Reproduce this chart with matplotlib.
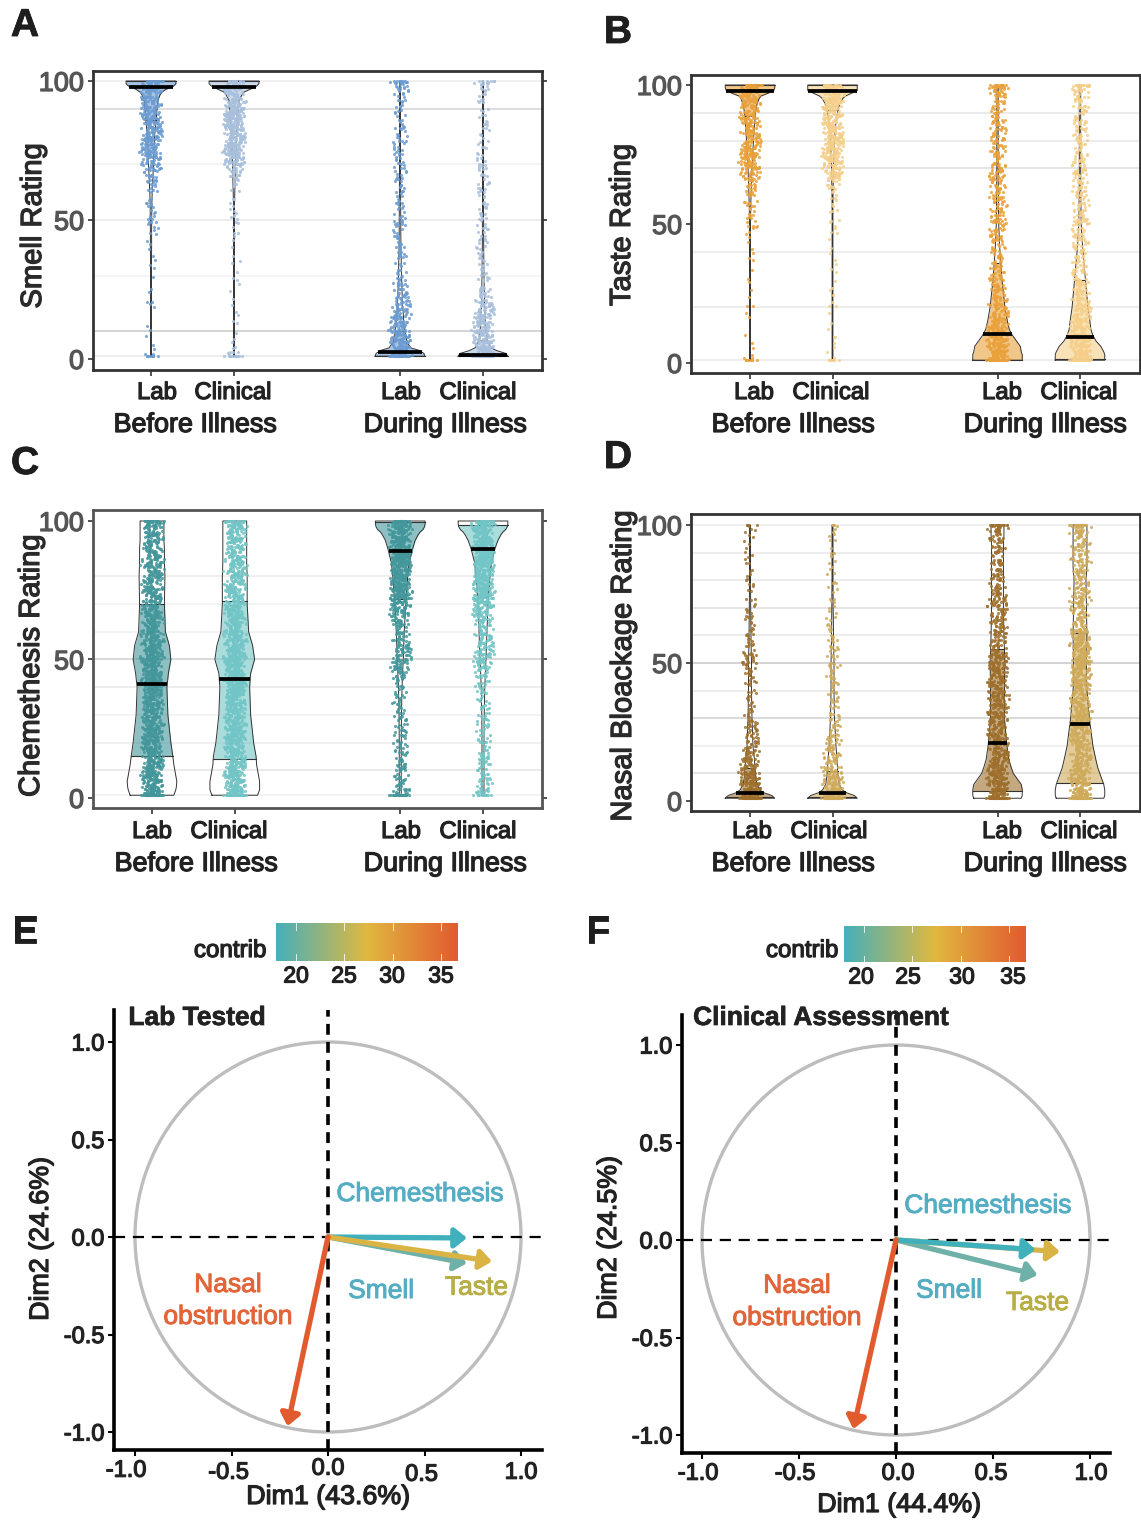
import numpy as np
import matplotlib
matplotlib.use("Agg")
import matplotlib.pyplot as plt
import matplotlib.patheffects as pe
from matplotlib.colors import LinearSegmentedColormap
from matplotlib.patches import Circle
from matplotlib.transforms import ScaledTranslation

plt.rcParams["font.family"] = ["Liberation Sans", "DejaVu Sans"]

W, H = 1141, 1522

# ratings are read in 2-point bands: counts[i] = points seen near rating 2*i
smell_lab_before = [8,3,1,1,1,1,1,0,0,1,3,0,1,1,0,1,1,1,1,1,1,2,1,2,3,6,4,3,4,3,4,5,7,9,13,16,19,21,23,24,25,26,27,25,22,20,19,17,16,18,24]
smell_clin_before = [12,6,2,1,1,1,1,1,1,1,1,1,1,1,1,1,1,1,1,1,1,1,1,2,2,3,3,2,2,2,2,3,4,7,13,24,27,28,30,31,32,32,33,34,33,29,22,18,17,19,26]
smell_lab_during = [30,28,27,25,23,21,19,18,16,15,13,11,9,10,7,5,4,4,4,5,4,4,5,4,5,6,4,4,5,3,4,4,4,4,5,6,4,5,5,6,5,4,4,3,4,4,4,5,6,9,18]
smell_clin_during = [32,30,28,26,24,22,21,20,19,18,16,11,9,6,5,4,4,4,4,4,4,4,4,4,4,5,5,4,4,3,4,4,4,4,4,5,4,3,3,3,3,3,3,2,3,3,3,3,4,5,14]
taste_lab_before = [8,2,1,1,1,1,0,0,1,1,2,0,1,1,0,2,0,1,1,1,1,1,1,2,3,4,4,4,6,6,5,6,9,13,17,19,21,22,24,22,22,21,21,20,19,18,17,18,18,20,26]
taste_clin_before = [6,2,1,1,1,2,1,1,0,1,2,1,1,1,1,1,1,1,1,1,1,1,1,1,2,2,2,2,2,2,3,4,7,13,18,21,23,25,25,26,27,28,27,26,25,23,21,21,22,24,28]
taste_lab_during = [32,30,29,27,25,23,21,20,18,16,15,14,13,11,10,10,9,9,8,7,7,7,8,9,9,10,11,10,9,9,10,10,10,11,11,10,10,9,10,9,10,9,10,9,10,9,7,9,10,14,24]
taste_clin_during = [32,30,28,26,23,21,20,18,18,16,15,14,12,12,10,10,9,9,9,8,8,8,9,9,9,11,10,9,8,8,8,9,9,9,9,8,9,8,8,8,8,8,8,8,8,7,8,8,10,12,22]
chem_lab_before = [38,34,33,34,32,31,31,32,29,31,31,29,29,31,29,29,31,31,31,29,33,34,34,34,36,38,36,34,32,31,31,31,29,29,27,26,24,26,24,22,24,22,24,24,22,22,22,22,22,24,30]
chem_clin_before = [38,34,34,32,32,32,31,31,31,31,29,31,31,29,29,31,29,31,31,31,31,34,36,34,36,38,34,34,32,32,31,31,29,29,29,27,27,26,26,24,24,24,24,24,24,22,24,24,24,27,34]
chem_lab_during = [20,13,9,8,8,8,8,8,6,6,8,6,6,6,6,6,6,6,5,5,6,6,9,13,14,16,16,14,13,11,11,11,13,16,20,24,27,29,31,32,34,36,36,36,38,38,38,38,38,38,40]
chem_clin_during = [13,9,8,8,8,8,8,9,8,6,6,6,6,6,6,5,5,5,5,6,6,6,8,11,13,16,16,14,14,13,13,14,14,18,22,26,29,31,32,34,34,34,34,34,34,34,36,36,36,38,40]
nasal_lab_before = [36,32,27,24,22,19,17,14,13,12,10,9,8,8,8,5,4,4,4,3,4,5,4,5,6,9,8,6,5,4,4,4,3,4,3,3,2,2,2,3,2,2,2,2,2,2,1,2,2,3,5]
nasal_clin_before = [34,29,24,20,17,16,14,13,12,12,10,9,8,6,6,5,4,4,4,4,4,5,5,5,5,6,5,4,4,4,4,3,3,3,2,2,2,2,2,2,2,2,2,2,2,2,1,2,2,2,5]
nasal_lab_during = [36,30,27,26,24,24,23,23,21,21,20,20,20,18,18,18,18,17,17,17,17,18,20,20,21,21,18,13,12,12,12,12,12,13,13,13,13,13,12,11,9,9,8,9,8,8,9,8,9,12,21]
nasal_clin_during = [39,33,30,27,26,26,24,23,23,23,21,23,23,23,23,23,21,21,21,21,23,23,23,23,24,24,23,21,21,21,21,21,12,12,12,12,14,14,14,12,11,11,12,12,12,11,11,12,12,14,24]

# violin density at each rating knot
rating_knots = [1,2,3,4,6,8,10,12,15,20,30,40,45,50,55,60,70,80,85,90,93,95,96,97,98,99,100]
smell_dens = [
    [.4,.4,.4,.4,.4,.4,.4,.4,.4,.4,.4,.6,.6,.7,.8,1.2,2.5,3.5,5,6,7,9,11,15,22,25,25],
    [.4,.4,.4,.4,.4,.4,.4,.4,.4,.4,.4,.4,.4,.4,.5,.8,1.5,2.5,3.5,4.5,5,8,10,16,22,25,25],
    [25,24,20,11,7,6,5,4,3.5,2.5,1.5,1,.8,.8,.6,.6,.5,.5,.5,.5,.5,.5,.5,.5,.5,.5,.5],
    [25,23,14,8,5,4,3,2.5,2,1.5,1,.7,.6,.6,.5,.5,.5,.5,.5,.5,.5,.5,.5,.5,.5,.5,.5],
]
taste_dens = [
    [.4,.4,.4,.4,.4,.4,.4,.4,.4,.4,.4,.4,.4,.5,.7,1,2,3.5,4.5,5.5,7,9,11,18,24,25,25],
    [.4,.4,.4,.4,.4,.4,.4,.4,.4,.4,.4,.4,.4,.4,.4,.5,1,2,3,5,7,10,13,19,25,25,25],
    [25,25,25,24,23,19,15,12,10,7.5,4.5,2.5,1.8,1.2,1,.9,.7,.7,.7,.7,.7,.7,.7,.7,.7,.7,.7],
    [25,25,25,24,21,16,13,11,10,8,5.5,3,2,1.2,1,.8,.7,.7,.7,.7,.7,.7,.7,.7,.7,.7,.7],
]
chem_dens = [
    [22,23,24,24.5,25,24,23,22,21,19,16,15,16.5,19,17.5,13.5,12.5,13,12.5,12.5,12,12,12,12,12,12,12],
    [23,24,25,25,25,24,23,22,21.5,19,16,15,16,20,18,14,12.5,12.5,12,12,12,12,12,12,12,12,12],
    [1,1,1,1,1,1,1,1,1,1,1.2,1.8,2.4,3,3.5,4,5.5,7.5,9,12.5,15,18,20,23,24.5,25,25],
    [1,1,1,1,1,1,1,1,1,1,1.2,1.8,2.4,3,3.5,4,5,7,8.5,12,15,18,20,23,24.5,25,25],
]
nasal_dens = [
    [25,22,14,10,7,6,5.5,5,4.5,3,2,1.5,1.5,1.5,1.2,1,.7,.5,.5,.5,.5,.5,.5,.5,.5,.5,.5],
    [25,22,14,10,7,6,5.5,5,4.5,3.5,2,1.5,1.5,1.5,1.2,1,.7,.5,.5,.5,.5,.5,.5,.5,.5,.5,.5],
    [24,25,25,25,24,20,16,14,11.5,9.5,7,7,7.2,7.5,7,6.5,6,6,6,6,6,6,6.5,6.5,6.5,6.5,6.5],
    [24,25,25,25,24,22,20,18,16,13,9.5,7,6.5,6.5,6.8,7,6.5,6,7,7,7,7,7,7,7,7,7],
]

# q1, median, q3 for lab/clinical before, lab/clinical during
smell_quart = [(86, 98, 100), (89, 98, 100), (1, 2.5, 10), (1, 1.5, 7)]
taste_quart = [(89, 98, 100), (91, 98, 100), (1, 10.5, 36), (1.5, 9.5, 30)]
chem_quart = [(15, 41, 70), (14, 43, 71), (72, 89, 99.5), (72.5, 90, 98.5)]
nasal_quart = [(1.5, 3, 12), (1.5, 3, 11), (3.5, 21, 55), (6.5, 28, 61)]

# horizontal reference lines: (rating, grey)
smell_grid = [(100, "#ececec"), (90, "#d4d4d4"), (70, "#f0f0f0"), (50, "#e8e8e8"), (30, "#f2f2f2"), (10, "#c8c8c8"), (1, "#e8e8e8")]
taste_grid = [(90, "#e6e6e6"), (80, "#e6e6e6"), (70, "#dedede"), (40, "#e8e8e8"), (20, "#e8e8e8"), (1, "#e8e8e8")]
chem_grid = [(80, "#ececec"), (70, "#f0f0f0"), (60, "#f0f0f0"), (50, "#cfcfcf"), (40, "#e8e8e8"), (30, "#f0f0f0"), (20, "#ececec"), (10, "#e6e6e6"), (1, "#f0f0f0")]
nasal_grid = [(100, "#ececec"), (90, "#e8e8e8"), (80, "#e6e6e6"), (70, "#dedede"), (60, "#e6e6e6"), (50, "#c8c8c8"), (40, "#e6e6e6"), (30, "#cfcfcf"), (20, "#ececec"), (10, "#dedede")]

condition_labels = ["Lab", "Clinical", "Lab", "Clinical"]
group_labels = ["Before Illness", "During Illness"]
cat_pos = [1, 2, 4, 5]

pca_lab_names = ["Smell", "Chemesthesis", "Taste", "Nasal"]
pca_lab_x = [0.72, 0.72, 0.85, -0.21]
pca_lab_y = [-0.135, -0.005, -0.125, -0.97]
pca_clin_names = ["Smell", "Taste", "Chemesthesis", "Nasal"]
pca_clin_x = [0.73, 0.845, 0.72, -0.22]
pca_clin_y = [-0.18, -0.06, -0.05, -0.97]
arrow_colors = {"Smell": "#6fb0a8", "Chemesthesis": "#3fb0bc", "Taste": "#d9b445", "Nasal": "#e25b2e"}
contrib_ticks = [20, 25, 30, 35]
contrib_range = [17.9, 36.8]
pca_ticks = [-1.0, -0.5, 0.0, 0.5, 1.0]


def px_axes(left, top, right, bottom):
    return fig.add_axes([left / W, 1 - bottom / H, (right - left) / W, (bottom - top) / H])


def label(px, py, s, size, color="#222222", weight="normal", rotation=0, stroke=0.9):
    dx, dy = (2, 0) if rotation else (0, 2)
    t = fig.text((px + dx) / W, 1 - (py + dy) / H, s, fontsize=size, color=color, weight=weight,
                 rotation=rotation, ha="center", va="center")
    if stroke:
        t.set_path_effects([pe.withStroke(linewidth=stroke, foreground=color)])
    return t


def nudge(ticklabels, offsets):
    for t, (dx, dy) in zip(ticklabels, offsets):
        t.set_transform(t.get_transform() + ScaledTranslation(dx / 100, -dy / 100, fig.dpi_scale_trans))


def draw_violin(ax, x, counts, dens, quart, color):
    unit = 0.012  # density 25 is about 25 px wide each side
    knots = np.array(rating_knots, dtype=float)
    half = np.array(dens) * unit
    q1, med, q3 = quart
    fine = np.arange(1, 100.01, 0.25)
    fine_half = np.interp(fine, knots, half)
    band = (fine >= q1) & (fine <= q3)
    ax.fill_betweenx(fine[band], x - fine_half[band], x + fine_half[band],
                     color=color, alpha=0.6, lw=0, zorder=2)
    ax.plot(np.r_[x - half, (x + half)[::-1], x - half[0]], np.r_[knots, knots[::-1], knots[0]],
            color="#333333", lw=0.7, zorder=3)
    for q in (q1, q3):
        w = np.interp(q, knots, half)
        ax.plot([x - w, x + w], [q, q], color="#333333", lw=0.8, zorder=3)
    # strip of points, spread sideways by a fixed pattern, wider where they crowd
    ratings = np.repeat(np.arange(len(counts)) * 2.0, counts)
    reach = np.repeat(0.07 + 0.08 * np.minimum(counts, 15) / 15, counts)
    i = np.arange(len(ratings)) + 1.0
    spread = ((i * i * 0.6180339) % 1 + (i * i * i * 0.0754877) % 1 - 1) * reach
    shift = ((i * i * 0.3141592) % 1 - 0.5) * 2
    ax.scatter(x + spread, np.clip(ratings + shift, 1, 100), s=5, color=color, alpha=0.85,
               linewidths=0, zorder=4)
    w = np.interp(med, knots, half)
    ax.plot([x - w, x + w], [med, med], color="black", lw=2.7, solid_capstyle="butt", zorder=5)


def violin_panel(rect, cats, y_px, counts, dens, quart, colors, grid, spine, x_px, ylab, ylab_xy, lab_y):
    ax = px_axes(*rect)
    scale = (cats[1] - cats[0]) / 4
    ax.set_xlim(1 + (rect[0] - cats[0]) / scale, 5 + (rect[2] - cats[1]) / scale)
    unit_y = (y_px[1] - y_px[0]) / 100
    ax.set_ylim((y_px[1] - rect[3]) / unit_y, (y_px[1] - rect[1]) / unit_y)
    for val, col in grid:
        ax.axhline(val, color=col, lw=1.1, zorder=1)
    for i, x in enumerate(cat_pos):
        draw_violin(ax, x, counts[i], dens[i], quart[i], colors[i])
    ax.set_xticks(cat_pos, [""] * 4)
    ax.set_yticks([0, 50, 100])
    ax.tick_params(axis="y", labelsize=19.5, labelcolor="#555555", right=True, length=3.5, width=1.2, pad=3, color="#333333")
    ax.tick_params(axis="x", length=4, width=1.2, color="#333333")
    for t in ax.get_yticklabels():
        t.set_path_effects([pe.withStroke(linewidth=0.9, foreground="#555555")])
    for s in ax.spines.values():
        s.set_linewidth(2)
        s.set_color(spine)
    for px, s in zip(x_px[:4], condition_labels):
        label(px, lab_y, s, 17.2)
    for px, s in zip(x_px[4:], group_labels):
        label(px, lab_y + 32, s, 19.4)
    label(ylab_xy[0], ylab_xy[1], ylab, 21, rotation=90, color="#2a2a2a")
    return ax


def pca_panel(rect, origin, unit, xnames, xs, ys, title, title_xy, xlab, xlab_xy, ylab, ylab_xy, text_pos, x_offsets):
    ax = px_axes(*rect)
    ax.set_xlim((rect[0] - origin[0]) / unit[0], (rect[2] - origin[0]) / unit[0])
    ax.set_ylim((origin[1] - rect[3]) / unit[1], (origin[1] - rect[1]) / unit[1])
    ax.add_patch(Circle((0, 0), 1, fill=False, ec="#bdbdbd", lw=2.4, zorder=1))
    ax.axhline(0, color="black", lw=1.6, ls=(0, (5, 3.5)), zorder=2)
    ax.axvline(0, color="black", lw=2.6, ls=(0, (3, 2)), zorder=2)
    for name, x, y in zip(xnames, xs, ys):
        ax.annotate("", xy=(x, y), xytext=(0, 0), zorder=3,
                    arrowprops=dict(arrowstyle="-|>,head_length=0.42,head_width=0.34", lw=3.8, shrinkA=0, shrinkB=0,
                                    color=arrow_colors[name], mutation_scale=17))
    for s, x, y, col in text_pos:
        t = ax.text(x, y - 0.01, s, color=col, fontsize=19, ha="center", va="center", zorder=4)
        t.set_path_effects([pe.withStroke(linewidth=0.7, foreground=col)])
    for s in ("top", "right"):
        ax.spines[s].set_visible(False)
    for s in ("left", "bottom"):
        ax.spines[s].set_linewidth(2.6)
    ax.set_xticks(pca_ticks, [f"{v:.1f}" for v in pca_ticks])
    ax.set_yticks(pca_ticks, [f"{v:.1f}" for v in pca_ticks])
    ax.tick_params(labelsize=17, labelcolor="#222222", length=4, width=1.5, pad=3)
    ax.patch.set_alpha(0)
    nudge(ax.get_xticklabels(), x_offsets)
    for t in ax.get_xticklabels() + ax.get_yticklabels():
        t.set_path_effects([pe.withStroke(linewidth=0.9, foreground="#222222")])
    label(title_xy[0], title_xy[1], title, 19, weight="bold", stroke=0.5)
    label(xlab_xy[0], xlab_xy[1], xlab, 19.3)
    label(ylab_xy[0], ylab_xy[1], ylab, 19.3, rotation=90)


def contrib_bar(rect, tick_px, lab_xy):
    ax = px_axes(*rect)
    cmap = LinearSegmentedColormap.from_list("contrib", ["#45b0bb", "#e0b840", "#e25b30"])
    ax.imshow(np.linspace(0, 1, 256)[None, :], aspect="auto", cmap=cmap,
              extent=[contrib_range[0], contrib_range[1], 0, 1])
    ax.set_yticks([])
    ax.set_xticks(contrib_ticks, [])
    ax.tick_params(axis="x", length=0)
    for c in contrib_ticks:
        ax.plot([c, c], [0, 0.18], color="white", lw=0.7, alpha=0.8)
        ax.plot([c, c], [0.82, 1], color="white", lw=0.7, alpha=0.8)
    ax.set_ylim(0, 1)
    ax.set_xlim(contrib_range)
    for s in ax.spines.values():
        s.set_visible(False)
    for px, c in zip(tick_px, contrib_ticks):
        label(px, rect[3] + 13, str(c), 16.5)
    label(lab_xy[0], lab_xy[1], "contrib", 17.4)


fig = plt.figure(figsize=(W / 100, H / 100), dpi=100)

violin_panel((93, 71, 542, 370), (151, 483), (81, 359),
             [smell_lab_before, smell_clin_before, smell_lab_during, smell_clin_during],
             smell_dens, smell_quart, ["#6b9bd1", "#a9c0dc", "#6b9bd1", "#a9c0dc"], smell_grid, "#333333",
             [157, 233, 401, 478, 195, 445], "Smell Rating", (31, 226), 391)
violin_panel((691, 75, 1140, 373), (750, 1080), (85, 363),
             [taste_lab_before, taste_clin_before, taste_lab_during, taste_clin_during],
             taste_dens, taste_quart, ["#e9a13b", "#f5cf8a", "#e9a13b", "#f5cf8a"], taste_grid, "#333333",
             [754, 831, 1002, 1079, 793, 1045], "Taste Rating", (620, 225), 391)
violin_panel((93, 510, 542, 808), (152, 483), (521, 798),
             [chem_lab_before, chem_clin_before, chem_lab_during, chem_clin_during],
             chem_dens, chem_quart, ["#43979b", "#72c5c6", "#43979b", "#72c5c6"], chem_grid, "#555555",
             [152, 229, 401, 478, 196, 445], "Chemethesis Rating", (29, 666), 830)
violin_panel((691, 514, 1140, 811), (750, 1080), (525, 801),
             [nasal_lab_before, nasal_clin_before, nasal_lab_during, nasal_clin_during],
             nasal_dens, nasal_quart, ["#9e6f2c", "#cfaa5b", "#9e6f2c", "#cfaa5b"], nasal_grid, "#333333",
             [752, 829, 1002, 1079, 793, 1045], "Nasal Bloackage Rating", (621, 666), 830)

contrib_bar((276, 923, 458, 961), (296, 344, 392, 441), (230, 949))
contrib_bar((844, 926, 1026, 962), (861, 908, 962, 1013), (802, 949))

teal = "#55adc4"
olive = "#b8ae45"
orange = "#e2653a"
pca_panel((114, 1010, 542, 1450), (328, 1237), (193, 195), pca_lab_names, pca_lab_x, pca_lab_y,
          "Lab Tested", (197, 1016), "Dim1 (43.6%)", (328, 1495), "Dim2 (24.6%)", (39, 1239),
          [("Chemesthesis", 0.477, 0.23, teal), ("Smell", 0.275, -0.267, teal), ("Taste", 0.77, -0.25, olive),
           ("Nasal", -0.518, -0.236, orange), ("obstruction", -0.518, -0.40, orange)],
          [(-9, 0), (-3, 2), (0, -2), (-3, 4), (0, 2)])
pca_panel((682, 1015, 1110, 1453), (896, 1240), (194, 195), pca_clin_names, pca_clin_x, pca_clin_y,
          "Clinical Assessment", (821, 1016), "Dim1 (44.4%)", (899, 1503), "Dim2 (24.5%)", (607, 1238),
          [("Chemesthesis", 0.474, 0.185, teal), ("Smell", 0.273, -0.25, teal), ("Taste", 0.73, -0.313, olive),
           ("Nasal", -0.51, -0.225, orange), ("obstruction", -0.51, -0.39, orange)],
          [(-4, 0), (-4, 0), (2, 0), (-2, 0), (1, 0)])

for s, px, py in [("A", 25, 24), ("B", 618, 31), ("C", 25, 462), ("D", 618, 456), ("E", 25, 931), ("F", 598, 931)]:
    label(px, py, s, 28, color="#1e1e1e", weight="bold", stroke=0.6)

fig.savefig("out.png", dpi=100)
